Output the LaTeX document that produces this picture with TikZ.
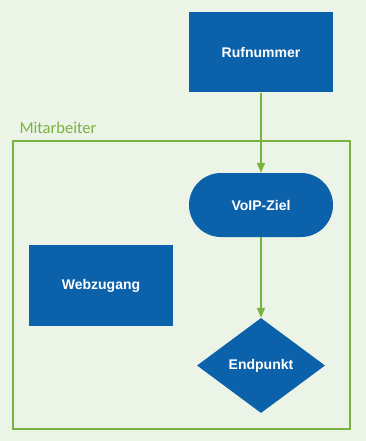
\documentclass[tikz,border=0pt]{standalone}
\usepackage{fontspec}
\setmainfont{Liberation Sans}
\newfontfamily\labelfont{Carlito}
\usetikzlibrary{shapes.geometric,arrows.meta}
\definecolor{boxblue}{HTML}{0C62AA}
\definecolor{framegreen}{HTML}{7AB23F}
\definecolor{bgpale}{HTML}{ECF3E7}
\tikzset{
  block/.style={fill=boxblue,text=white,font=\bfseries\fontsize{14}{16}\selectfont,
    minimum width=144pt,minimum height=80pt,inner sep=0pt},
  flow/.style={-{Triangle[length=10pt,width=8pt]},framegreen,line width=1.2pt},
}
\begin{document}
\begin{tikzpicture}[x=1pt,y=-1pt]
		\fill[bgpale] (0,0) rectangle (366,441);
		\useasboundingbox (0,0) rectangle (366,441);
		\draw[framegreen,line width=1.2pt] (13,141) rectangle (350,429);
		\node[framegreen,anchor=west,font=\labelfont\fontsize{16.5}{18}\selectfont] (frame) at (16,128) {Mitarbeiter};
		\node[block] (nummer) at (261,52.5) {Rufnummer};
		\node[block,minimum height=64pt,rounded corners=32pt] (ziel) at (261,205) {VoIP-Ziel};
		\node[block,minimum height=81pt] (web) at (101,285.5) {Webzugang};
		\node[diamond,fill=boxblue,text=white,font=\bfseries\fontsize{14}{16}\selectfont,
		  minimum width=128pt,minimum height=95pt,inner sep=0pt,aspect=1.35] (ende) at (261,365.5) {Endpunkt};
		\draw[flow] (nummer) -- (ziel);
		\draw[flow] (ziel) -- (ende);
	\end{tikzpicture}
\end{document}
